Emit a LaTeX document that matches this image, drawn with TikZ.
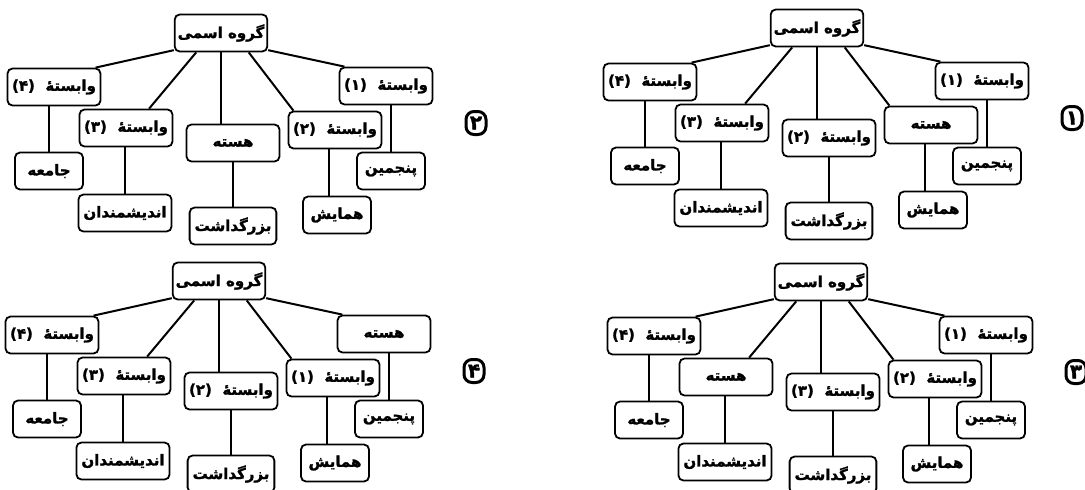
\documentclass[tikz,border=0pt]{standalone}
\usepackage{fontspec}
\newfontfamily\fa[Script=Arabic,FakeBold=1.5]{DejaVu Sans}
\TeXXeTstate=1
\newcommand{\rtl}[1]{\beginR #1\endR}

\newcommand{\drawtree}[8]{%
\begin{scope}[shift={#1},name prefix=#2-]
\node[box] (root) at (0,0) {\rtl{گروه اسمی}};
\node[box,wide] (n1) at (-167,54) {\rtl{#3}};
\node[box,wide] (n2) at (-95,95) {\rtl{#4}};
\node[box,wide] (n3) at (12,110) {\rtl{#5}};
\node[box,wide] (n4) at (114,97) {\rtl{#6}};
\node[box,wide] (n5) at (165,53) {\rtl{#7}};
\node[leaf] (l1) at (-172,138) {\rtl{جامعه}};
\node[leaf] (l2) at (-96,180) {\rtl{اندیشمندان}};
\node[leaf] (l3) at (12,193) {\rtl{بزرگداشت}};
\node[leaf] (l4) at (116,182) {\rtl{همایش}};
\node[leaf] (l5) at (170,138) {\rtl{پنجمین}};
\draw[link] (root.200) -- (n1.25);
\draw[link] (root.218) -- (n2.40);
\draw[link] (root.south) -- (root.south |- n3.north);
\draw[link] (root.-35) -- (n4.155);
\draw[link] (root.-20) -- (n5.155);
\draw[link] (l1.north) -- (l1.north |- n1.south);
\draw[link] (l2.north) -- (l2.north |- n2.south);
\draw[link] (l3.north) -- (l3.north |- n3.south);
\draw[link] ([xshift=-4pt]l4.north) -- ([xshift=-4pt]l4.north |- n4.south);
\draw[link] (l5.north) -- (l5.north |- n5.south);
\node[num] (tag) at (255,90) {#8};
\end{scope}}

\begin{document}
\begin{tikzpicture}[x=0.5pt,y=-0.5pt,
  box/.style={draw,line width=0.9pt,rounded corners=2.5pt,fill=white,
    minimum width=45pt,minimum height=18.5pt,inner sep=1.5pt,
    font=\fa\bfseries\fontsize{7.5}{9}\selectfont},
  wide/.style={minimum width=46.5pt},
  leaf/.style={box,minimum width=34pt,inner xsep=2.5pt},
  link/.style={line width=1pt},
  num/.style={draw,line width=1.5pt,rounded corners=4pt,minimum width=10pt,
    minimum height=11.5pt,inner sep=0pt,font=\fa\bfseries\fontsize{10}{12}\selectfont}]
\useasboundingbox (0,0) rectangle (1085,489);
\drawtree{(817,28)}{a}{وابستهٔ\ \ (۴)}{وابستهٔ\ \ (۳)}{وابستهٔ\ \ (۲)}{هسته}{وابستهٔ\ \ (۱)}{۱}
\drawtree{(221,33)}{b}{وابستهٔ\ \ (۴)}{وابستهٔ\ \ (۳)}{هسته}{وابستهٔ\ \ (۲)}{وابستهٔ\ \ (۱)}{۲}
\drawtree{(821,282)}{c}{وابستهٔ\ \ (۴)}{هسته}{وابستهٔ\ \ (۳)}{وابستهٔ\ \ (۲)}{وابستهٔ\ \ (۱)}{۳}
\drawtree{(219,281)}{d}{وابستهٔ\ \ (۴)}{وابستهٔ\ \ (۳)}{وابستهٔ\ \ (۲)}{وابستهٔ\ \ (۱)}{هسته}{۴}
\end{tikzpicture}
\end{document}
